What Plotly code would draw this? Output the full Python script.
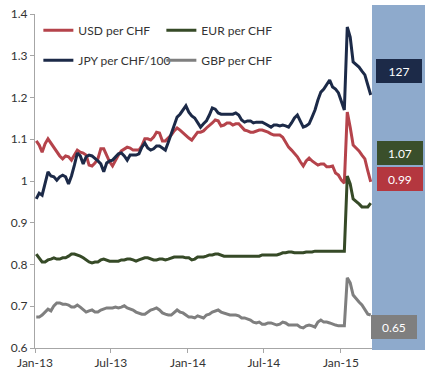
import pandas as pd
import plotly.graph_objects as go

dates = pd.date_range("2013-01-04", periods=115, freq="7D")

usd_per_chf = [
    1.096, 1.086, 1.069, 1.089, 1.101, 1.091, 1.081, 1.069, 1.060, 1.053,
    1.060, 1.058, 1.050, 1.062, 1.074, 1.069, 1.067, 1.062, 1.038, 1.036,
    1.043, 1.053, 1.077, 1.077, 1.060, 1.046, 1.036, 1.050, 1.062, 1.072,
    1.077, 1.081, 1.079, 1.074, 1.074, 1.074, 1.084, 1.101, 1.101, 1.098,
    1.105, 1.117, 1.115, 1.096, 1.096, 1.103, 1.110, 1.120, 1.127, 1.122,
    1.115, 1.110, 1.103, 1.098, 1.108, 1.117, 1.117, 1.120, 1.127, 1.132,
    1.139, 1.146, 1.144, 1.132, 1.134, 1.139, 1.139, 1.134, 1.137, 1.137,
    1.129, 1.122, 1.120, 1.117, 1.117, 1.120, 1.122, 1.122, 1.120, 1.117,
    1.113, 1.110, 1.110, 1.110, 1.105, 1.093, 1.081, 1.074, 1.065, 1.058,
    1.046, 1.036, 1.048, 1.055, 1.048, 1.043, 1.038, 1.041, 1.041, 1.034,
    1.034, 1.036, 1.019, 1.014, 1.002, 0.995, 1.165, 1.129, 1.086, 1.079,
    1.072, 1.062, 1.053, 1.024, 0.998,
]

eur_per_chf = [
    0.825, 0.816, 0.806, 0.806, 0.811, 0.813, 0.816, 0.813, 0.813, 0.816,
    0.816, 0.820, 0.825, 0.825, 0.823, 0.820, 0.816, 0.811, 0.806, 0.804,
    0.806, 0.806, 0.811, 0.813, 0.811, 0.808, 0.808, 0.808, 0.808, 0.811,
    0.811, 0.813, 0.813, 0.811, 0.808, 0.811, 0.813, 0.816, 0.816, 0.813,
    0.811, 0.811, 0.813, 0.813, 0.811, 0.813, 0.816, 0.818, 0.818, 0.818,
    0.818, 0.816, 0.816, 0.811, 0.813, 0.818, 0.818, 0.818, 0.820, 0.823,
    0.823, 0.825, 0.825, 0.823, 0.820, 0.820, 0.820, 0.820, 0.820, 0.820,
    0.820, 0.820, 0.820, 0.820, 0.820, 0.820, 0.820, 0.823, 0.823, 0.823,
    0.823, 0.823, 0.823, 0.825, 0.828, 0.828, 0.830, 0.830, 0.828, 0.828,
    0.828, 0.828, 0.830, 0.830, 0.830, 0.832, 0.832, 0.832, 0.832, 0.832,
    0.832, 0.832, 0.832, 0.832, 0.832, 0.832, 1.012, 0.993, 0.957, 0.952,
    0.945, 0.938, 0.938, 0.938, 0.947,
]

jpy_per_chf_100 = [
    0.957, 0.971, 0.966, 0.998, 1.022, 1.012, 1.010, 1.002, 1.010, 1.014,
    1.010, 0.993, 1.012, 1.038, 1.067, 1.060, 1.041, 1.058, 1.062, 1.060,
    1.055, 1.048, 1.041, 1.022, 1.043, 1.048, 1.050, 1.058, 1.065, 1.067,
    1.060, 1.050, 1.062, 1.062, 1.062, 1.065, 1.081, 1.091, 1.079, 1.074,
    1.077, 1.084, 1.084, 1.079, 1.074, 1.093, 1.115, 1.134, 1.153, 1.160,
    1.170, 1.180, 1.165, 1.156, 1.151, 1.139, 1.129, 1.137, 1.144, 1.158,
    1.175, 1.172, 1.163, 1.160, 1.160, 1.160, 1.160, 1.160, 1.163, 1.158,
    1.146, 1.141, 1.144, 1.144, 1.139, 1.141, 1.141, 1.141, 1.137, 1.132,
    1.129, 1.134, 1.134, 1.132, 1.134, 1.132, 1.129, 1.139, 1.151, 1.158,
    1.144, 1.129, 1.132, 1.137, 1.153, 1.170, 1.194, 1.213, 1.220, 1.230,
    1.242, 1.225, 1.220, 1.211, 1.189, 1.170, 1.369, 1.345, 1.285, 1.280,
    1.273, 1.263, 1.254, 1.230, 1.206,
]

gbp_per_chf = [
    0.674, 0.674, 0.679, 0.686, 0.693, 0.689, 0.701, 0.708, 0.708, 0.705,
    0.705, 0.703, 0.698, 0.698, 0.703, 0.698, 0.691, 0.686, 0.689, 0.691,
    0.686, 0.686, 0.691, 0.693, 0.696, 0.696, 0.696, 0.698, 0.696, 0.698,
    0.701, 0.696, 0.693, 0.691, 0.686, 0.684, 0.681, 0.681, 0.686, 0.691,
    0.693, 0.696, 0.691, 0.684, 0.681, 0.679, 0.679, 0.686, 0.691, 0.686,
    0.684, 0.679, 0.674, 0.674, 0.672, 0.677, 0.674, 0.672, 0.679, 0.681,
    0.686, 0.689, 0.691, 0.686, 0.684, 0.681, 0.679, 0.679, 0.679, 0.677,
    0.672, 0.672, 0.669, 0.667, 0.662, 0.660, 0.662, 0.657, 0.657, 0.660,
    0.660, 0.657, 0.655, 0.657, 0.662, 0.660, 0.655, 0.655, 0.655, 0.655,
    0.650, 0.648, 0.653, 0.655, 0.653, 0.650, 0.662, 0.667, 0.662, 0.662,
    0.660, 0.657, 0.655, 0.653, 0.653, 0.653, 0.768, 0.756, 0.727, 0.717,
    0.710, 0.703, 0.693, 0.681, 0.679,
]

series_names = ["USD per CHF", "EUR per CHF", "JPY per CHF/100", "GBP per CHF"]
series_colors = ["#B5434B", "#364A27", "#1C2A48", "#7F7F7F"]

tag_texts = ["127", "1.07", "0.99", "0.65"]
tag_levels = [1.263, 1.067, 1.005, 0.651]
tag_colors = ["#1C2A48", "#3A4F2B", "#B4373F", "#7F7F7F"]
tag_xpos = [1.079, 1.083, 1.083, 1.065]

y_ticks = [0.6, 0.7, 0.8, 0.9, 1.0, 1.1, 1.2, 1.3, 1.4]
y_tick_labels = ["0.6", "0.7", "0.8", "0.9", "1", "1.1", "1.2", "1.3", "1.4"]
x_ticks = ["2013-01-01", "2013-07-01", "2014-01-01", "2014-07-01", "2015-01-01"]
x_tick_labels = ["Jan-13", "Jul-13", "Jan-14", "Jul-14", "Jan-15"]

all_values = [usd_per_chf, eur_per_chf, jpy_per_chf_100, gbp_per_chf]
legend_ids = ["legend", "legend", "legend2", "legend2"]

fig = go.Figure()
for name, vals, col, lg in zip(series_names, all_values, series_colors, legend_ids):
    fig.add_trace(go.Scatter(
        x=dates, y=vals, mode="lines", name=name,
        line=dict(color=col, width=3), legend=lg,
    ))

font_family = "Lato, Open Sans, sans-serif"

for txt, lvl, col, xp in zip(tag_texts, tag_levels, tag_colors, tag_xpos):
    fig.add_annotation(
        x=xp, xref="paper", y=lvl, yref="y", text=txt, showarrow=False,
        font=dict(color="white", size=12, family=font_family),
        bgcolor=col, bordercolor=col, width=38, height=16, borderpad=3,
        xanchor="center", yanchor="middle",
    )

fig.add_shape(
    type="rect", xref="paper", yref="paper",
    x0=1.0, x1=1.16, y0=-0.006, y1=1.027,
    fillcolor="#8EAACC", line=dict(width=0), layer="below",
)

fig.update_layout(
    width=425, height=377,
    margin=dict(l=35, r=53, t=14, b=29, autoexpand=False),
    paper_bgcolor="white", plot_bgcolor="rgba(0,0,0,0)",
    font=dict(family=font_family, size=12, color="#333333"),
    showlegend=True,
    legend=dict(
        orientation="h", x=0.01, y=0.995, xanchor="left", yanchor="top",
        entrywidth=78, bgcolor="rgba(0,0,0,0)",
        font=dict(size=12, color="#333333", family=font_family),
    ),
    legend2=dict(
        orientation="h", x=0.01, y=0.905, xanchor="left", yanchor="top",
        entrywidth=78, bgcolor="rgba(0,0,0,0)",
        font=dict(size=12, color="#333333", family=font_family),
    ),
    xaxis=dict(
        range=["2013-01-01", "2015-03-16"], automargin=False,
        tickvals=x_ticks, ticktext=x_tick_labels,
        showgrid=False, zeroline=False,
        showline=True, linecolor="#A6A6A6", linewidth=1,
        ticks="outside", ticklen=4, tickcolor="#A6A6A6",
        tickfont=dict(size=12, color="#333333"),
    ),
    yaxis=dict(
        range=[0.6, 1.4], automargin=False,
        tickvals=y_ticks, ticktext=y_tick_labels,
        showgrid=False, zeroline=False,
        showline=True, linecolor="#A6A6A6", linewidth=1,
        ticks="outside", ticklen=4, tickcolor="#A6A6A6",
        tickfont=dict(size=12, color="#333333"),
    ),
)

fig.write_html(
    "out.html",
    config={"displayModeBar": False},
    post_script="document.body.style.margin='0';document.body.style.padding='0';",
)
